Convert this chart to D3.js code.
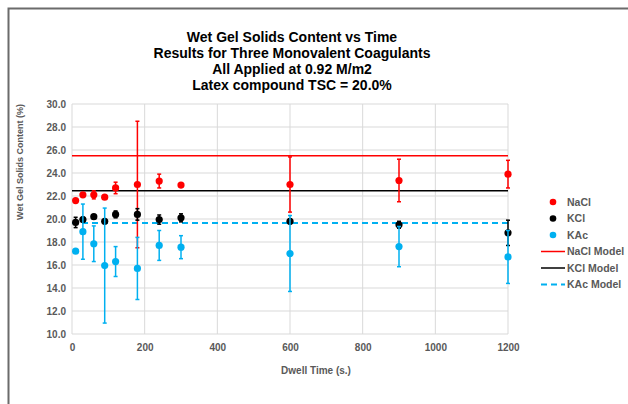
<!DOCTYPE html>
<html>
<head>
<meta charset="utf-8">
<script src="https://cdn.jsdelivr.net/npm/d3@7/dist/d3.min.js"></script>
<style>
  html, body { margin: 0; padding: 0; background: #fff; }
  svg { display: block; font-family: "Liberation Sans", Arial, sans-serif; }
</style>
</head>
<body>
<svg id="chart" width="628" height="404"></svg>
<script>
// ---- Data ----
const titleLines = ["Wet Gel Solids Content vs Time", "Results for Three Monovalent Coagulants", "All Applied at 0.92 M/m2", "Latex compound TSC = 20.0%"];
const times = [10, 30, 60, 90, 120, 180, 240, 300, 600, 900, 1200];
const naclVals = [21.6, 22.1, 22.1, 21.9, 22.7, 23.0, 23.3, 22.95, 23.0, 23.35, 23.9];
const naclErr  = [0, 0.1, 0.35, 0, 0.5, 5.5, 0.6, 0.2, 2.4, 1.85, 1.2];
const kclVals  = [19.7, 19.95, 20.2, 19.8, 20.4, 20.4, 19.95, 20.1, 19.8, 19.5, 18.8];
const kclErr   = [0.45, 0.2, 0.15, 0, 0.3, 0.5, 0.4, 0.35, 0.2, 0.3, 1.1];
const kacVals  = [17.2, 18.9, 17.85, 15.95, 16.3, 15.7, 17.7, 17.55, 17.0, 17.6, 16.7];
const kacErr   = [0, 2.4, 1.55, 5.0, 1.3, 2.7, 1.3, 1.0, 3.3, 1.75, 2.3];
const modelNames = ["NaCl Model", "KCl Model", "KAc Model"];
const modelVals = [25.5, 22.45, 19.65];
const seriesNames = ["NaCl", "KCl", "KAc"];
const xTicks = [0, 200, 400, 600, 800, 1000, 1200];
const yTicks = [10, 12, 14, 16, 18, 20, 22, 24, 26, 28, 30];
const xLabel = "Dwell Time (s.)";
const yLabel = "Wet Gel Solids Content (%)";

// ---- Styles ----
const colors = ["#ff0000", "#000000", "#00b0f0"];
const svg = d3.select("#chart");
const x = d3.scaleLinear().domain([0, 1200]).range([72, 508]);
const y = d3.scaleLinear().domain([10, 30]).range([334, 104]);
const textCol = "#595959";

// outer frame
svg.append("path").attr("d", "M8.5,410 L8.5,8.5 L640,8.5")
  .attr("fill", "none").attr("stroke", "#6b6b6b").attr("stroke-width", 2);

// title
const title = svg.append("text").attr("text-anchor", "middle")
  .attr("font-size", 14).attr("font-weight", "bold").attr("fill", "#000");
titleLines.forEach((t, i) => {
  title.append("tspan").attr("x", 292).attr("y", 42 + i * 16).text(t);
});

// grid
const gridCol = "#d9d9d9";
svg.append("g").selectAll("line").data(yTicks).join("line")
  .attr("x1", x(0)).attr("x2", x(1200)).attr("y1", d => y(d)).attr("y2", d => y(d))
  .attr("stroke", gridCol).attr("stroke-width", 1);
svg.append("g").selectAll("line").data(xTicks).join("line")
  .attr("y1", y(10)).attr("y2", y(30)).attr("x1", d => x(d)).attr("x2", d => x(d))
  .attr("stroke", gridCol).attr("stroke-width", 1);

// axes (labels only)
const xAxis = svg.append("g").attr("transform", `translate(0,${y(10)})`)
  .call(d3.axisBottom(x).tickValues(xTicks).tickSize(0).tickPadding(10).tickFormat(d3.format("d")));
xAxis.select(".domain").remove();
xAxis.selectAll("text").attr("font-size", 10).attr("font-weight", "bold").attr("fill", textCol)
  .attr("font-family", "Liberation Sans, Arial, sans-serif");

const yAxis = svg.append("g").attr("transform", `translate(${x(0)},0)`)
  .call(d3.axisLeft(y).tickValues(yTicks).tickSize(0).tickPadding(6).tickFormat(d3.format(".1f")));
yAxis.select(".domain").remove();
yAxis.selectAll("text").attr("font-size", 10).attr("font-weight", "bold").attr("fill", textCol)
  .attr("font-family", "Liberation Sans, Arial, sans-serif");

svg.append("text").attr("x", 316).attr("y", 374).attr("text-anchor", "middle")
  .attr("font-size", 10).attr("font-weight", "bold").attr("fill", textCol).text(xLabel);
svg.append("text").attr("transform", "translate(23,162) rotate(-90)").attr("text-anchor", "middle")
  .attr("font-size", 9).attr("font-weight", "bold").attr("fill", textCol).text(yLabel);

// model lines
modelVals.forEach((v, i) => {
  svg.append("line").attr("x1", x(0)).attr("x2", x(1200)).attr("y1", y(v)).attr("y2", y(v))
    .attr("stroke", colors[i]).attr("stroke-width", i === 2 ? 2 : 1.5)
    .attr("stroke-dasharray", i === 2 ? "6,4" : null);
});

// series with error bars
const series = [
  { vals: naclVals, err: naclErr },
  { vals: kclVals, err: kclErr },
  { vals: kacVals, err: kacErr }
];
series.forEach((s, i) => {
  const g = svg.append("g");
  const data = times.map((t, j) => ({ t, v: s.vals[j], e: s.err[j] }));
  const eb = data.filter(d => d.e > 0);
  g.selectAll("line.bar").data(eb).join("line")
    .attr("x1", d => x(d.t)).attr("x2", d => x(d.t))
    .attr("y1", d => y(d.v - d.e)).attr("y2", d => y(d.v + d.e))
    .attr("stroke", colors[i]).attr("stroke-width", 1.5);
  [-1, 1].forEach(sgn => {
    g.selectAll("line.cap" + sgn).data(eb).join("line")
      .attr("x1", d => x(d.t) - 2).attr("x2", d => x(d.t) + 2)
      .attr("y1", d => y(d.v + sgn * d.e)).attr("y2", d => y(d.v + sgn * d.e))
      .attr("stroke", colors[i]).attr("stroke-width", 1.5);
  });
  g.selectAll("circle").data(data).join("circle")
    .attr("cx", d => x(d.t)).attr("cy", d => y(d.v)).attr("r", 3.6)
    .attr("fill", colors[i]);
});

// legend
const lx = 553, ly0 = 202, lstep = 16.5;
seriesNames.forEach((n, i) => {
  svg.append("circle").attr("cx", lx).attr("cy", ly0 + i * lstep).attr("r", 3.3).attr("fill", colors[i]);
  svg.append("text").attr("x", 567).attr("y", ly0 + i * lstep + 3.8)
    .attr("font-size", 10.5).attr("font-weight", "bold").attr("fill", textCol).text(n);
});
modelNames.forEach((n, i) => {
  const yy = ly0 + (i + 3) * lstep;
  svg.append("line").attr("x1", 541).attr("x2", 565).attr("y1", yy).attr("y2", yy)
    .attr("stroke", colors[i]).attr("stroke-width", i === 2 ? 2 : 1.5)
    .attr("stroke-dasharray", i === 2 ? "6,4" : null);
  svg.append("text").attr("x", 567).attr("y", yy + 3.8)
    .attr("font-size", 10.5).attr("font-weight", "bold").attr("fill", textCol).text(n);
});
</script>
</body>
</html>
